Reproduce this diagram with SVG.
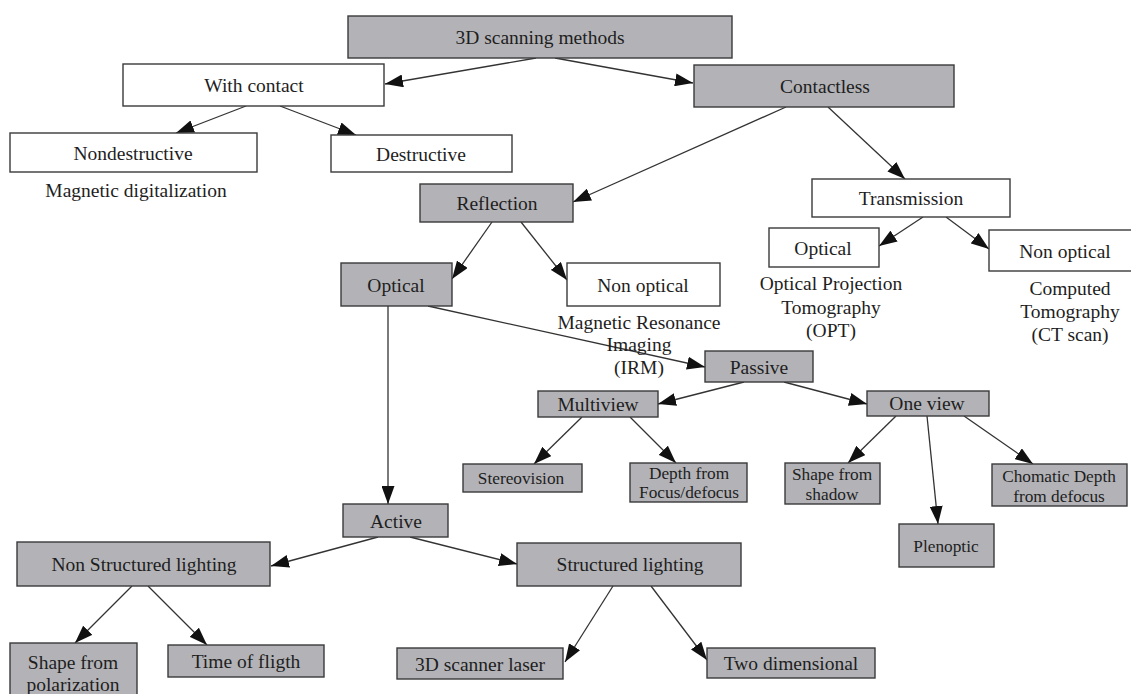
<svg xmlns="http://www.w3.org/2000/svg" width="1131" height="694" viewBox="0 0 1131 694">
<style>
  .g rect{fill:#b3b3b7;stroke:#3a3a3a;stroke-width:1.4}
  .w rect{fill:#ffffff;stroke:#3a3a3a;stroke-width:1.4}
  text{font-family:"Liberation Serif","Times New Roman",serif;fill:#1e1e1e;text-anchor:middle;dominant-baseline:central}
  .t{font-size:19.5px}
  .s{font-size:17.3px}
  #connectors line{stroke:#333;stroke-width:1.3;marker-end:url(#ah)}
</style>
<defs>
  <marker id="ah" markerUnits="userSpaceOnUse" markerWidth="18" markerHeight="13" refX="18" refY="6.5" orient="auto">
    <path d="M0,0 L18,6.5 L0,13 z" fill="#111"/>
  </marker>
</defs>
<rect width="1131" height="694" fill="#ffffff"/>
<g id="connectors">
  <line x1="536" y1="58" x2="385" y2="84"/>
  <line x1="555" y1="58" x2="693" y2="83"/>
  <line x1="246" y1="106" x2="176" y2="133"/>
  <line x1="280" y1="106" x2="356" y2="135"/>
  <line x1="786" y1="107" x2="573" y2="202"/>
  <line x1="828" y1="107" x2="905" y2="179"/>
  <line x1="492" y1="222" x2="452" y2="279"/>
  <line x1="521" y1="222" x2="567" y2="280"/>
  <line x1="923" y1="217" x2="879" y2="246"/>
  <line x1="946" y1="217" x2="989" y2="249"/>
  <line x1="428" y1="306" x2="705" y2="367"/>
  <line x1="388" y1="306" x2="388" y2="504"/>
  <line x1="744" y1="382" x2="658" y2="404"/>
  <line x1="784" y1="382" x2="867" y2="404"/>
  <line x1="582" y1="417" x2="534" y2="464"/>
  <line x1="630" y1="417" x2="676" y2="463"/>
  <line x1="896" y1="416" x2="848" y2="463"/>
  <line x1="927" y1="416" x2="938" y2="524"/>
  <line x1="964" y1="416" x2="1033" y2="464"/>
  <line x1="378" y1="537" x2="271" y2="566"/>
  <line x1="410" y1="537" x2="517" y2="564"/>
  <line x1="132" y1="586" x2="75" y2="643"/>
  <line x1="148" y1="586" x2="207" y2="645"/>
  <line x1="613" y1="586" x2="565" y2="662"/>
  <line x1="651" y1="586" x2="707" y2="660"/>
</g>
<g id="n-3d" class="g"><rect x="348" y="16" width="384" height="42"/><text class="t" x="540" y="37">3D scanning methods</text></g>
<g id="n-withcontact" class="w"><rect x="123" y="64" width="261" height="42"/><text class="t" x="254" y="85">With contact</text></g>
<g id="n-contactless" class="g"><rect x="694" y="65" width="260" height="42"/><text class="t" x="825" y="86">Contactless</text></g>
<g id="n-nondestructive" class="w"><rect x="10" y="133" width="247" height="39"/><text class="t" x="133" y="153">Nondestructive</text></g>
<g id="n-destructive" class="w"><rect x="331" y="135" width="181" height="37"/><text class="t" x="421" y="154">Destructive</text></g>
<g id="l-magdig"><text class="t" x="136" y="190">Magnetic digitalization</text></g>
<g id="n-reflection" class="g"><rect x="420" y="184" width="153" height="38"/><text class="t" x="497" y="203">Reflection</text></g>
<g id="n-transmission" class="w"><rect x="812" y="179" width="198" height="38"/><text class="t" x="911" y="198">Transmission</text></g>
<g id="n-optical-t" class="w"><rect x="769" y="228" width="110" height="39"/><text class="t" x="823" y="248">Optical</text></g>
<g id="n-nonoptical-t" class="w"><rect x="989" y="230" width="160" height="41"/><text class="t" x="1065" y="251">Non optical</text></g>
<g id="l-opt"><text class="t" x="831" y="283">Optical Projection</text><text class="t" x="831" y="307">Tomography</text><text class="t" x="831" y="330">(OPT)</text></g>
<g id="l-ct"><text class="t" x="1070" y="288">Computed</text><text class="t" x="1070" y="311">Tomography</text><text class="t" x="1070" y="334">(CT scan)</text></g>
<g id="n-optical-r" class="g"><rect x="341" y="263" width="111" height="43"/><text class="t" x="396" y="285">Optical</text></g>
<g id="n-nonoptical-r" class="w"><rect x="567" y="263" width="153" height="43"/><text class="t" x="643" y="285">Non optical</text></g>
<g id="l-mri"><text class="t" x="639" y="322">Magnetic Resonance</text><text class="t" x="639" y="344">Imaging</text><text class="t" x="639" y="367">(IRM)</text></g>
<g id="n-passive" class="g"><rect x="705" y="351" width="108" height="31"/><text class="t" x="759" y="367">Passive</text></g>
<g id="n-multiview" class="g"><rect x="538" y="391" width="120" height="26"/><text class="t" x="598" y="404">Multiview</text></g>
<g id="n-oneview" class="g"><rect x="867" y="391" width="122" height="25"/><text class="t" x="927" y="403">One view</text></g>
<g id="n-stereovision" class="g"><rect x="463" y="464" width="119" height="28"/><text class="s" x="521" y="478">Stereovision</text></g>
<g id="n-depth" class="g"><rect x="630" y="463" width="117" height="39"/><text class="s" x="689" y="473">Depth from</text><text class="s" x="689" y="492">Focus/defocus</text></g>
<g id="n-shadow" class="g"><rect x="785" y="463" width="95" height="41"/><text class="s" x="832" y="474">Shape from</text><text class="s" x="832" y="494">shadow</text></g>
<g id="n-chomatic" class="g"><rect x="992" y="464" width="135" height="42"/><text class="s" x="1059" y="476">Chomatic Depth</text><text class="s" x="1059" y="496">from defocus</text></g>
<g id="n-plenoptic" class="g"><rect x="899" y="524" width="95" height="43"/><text class="s" x="946" y="546">Plenoptic</text></g>
<g id="n-active" class="g"><rect x="343" y="504" width="105" height="33"/><text class="t" x="396" y="521">Active</text></g>
<g id="n-nonstructured" class="g"><rect x="17" y="542" width="253" height="44"/><text class="t" x="144" y="564">Non Structured lighting</text></g>
<g id="n-structured" class="g"><rect x="517" y="543" width="224" height="43"/><text class="t" x="630" y="564">Structured lighting</text></g>
<g id="n-polarization" class="g"><rect x="10" y="643" width="127" height="60"/><text class="t" x="73" y="662">Shape from</text><text class="t" x="73" y="684">polarization</text></g>
<g id="n-tof" class="g"><rect x="168" y="645" width="156" height="32"/><text class="t" x="246" y="661">Time of fligth</text></g>
<g id="n-laser" class="g"><rect x="397" y="648" width="166" height="31"/><text class="t" x="480" y="664">3D scanner laser</text></g>
<g id="n-twodim" class="g"><rect x="707" y="648" width="168" height="30"/><text class="t" x="791" y="663">Two dimensional</text></g>
</svg>
